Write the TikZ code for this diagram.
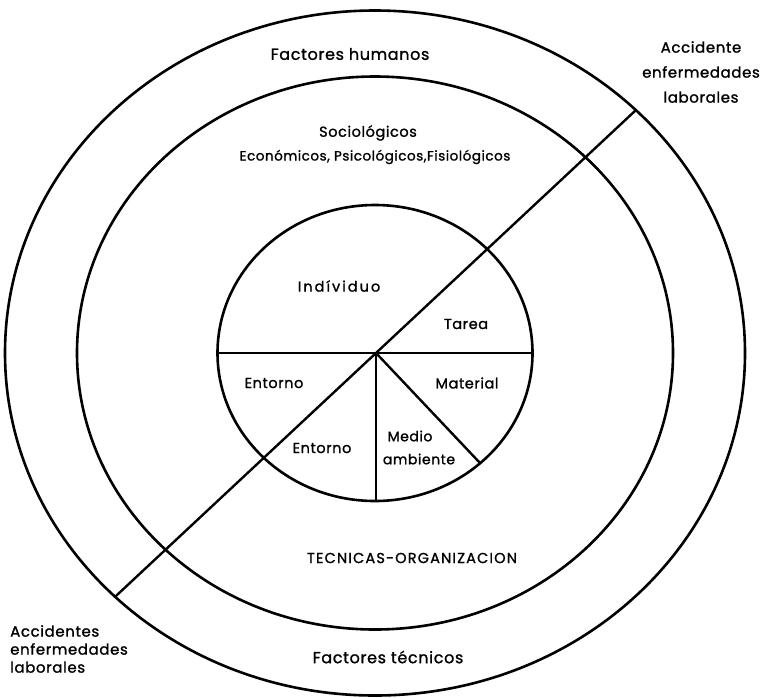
\documentclass[tikz,border=0pt]{standalone}
\usepackage{fontspec}
\setmainfont{Poppins}[FakeBold=1.2, LetterSpace=4]
\begin{document}
\begin{tikzpicture}[x=1pt,y=-1pt,
  ring/.style={line width=2.6pt},
  sep/.style={line width=2.4pt},
  lbl/.style={font=\fontsize{14.5}{17}\selectfont, inner sep=0pt, anchor=center},
  big/.style={font=\fontsize{15}{25}\selectfont, inner sep=0pt, anchor=center, align=center}
]
\fill[white] (0,0) rectangle (762,697);
\useasboundingbox (0,0) rectangle (762,697);
% centre
\coordinate (c) at (376,353);
\coordinate (e) at (375,353);
% rings
\draw[ring] (e) ellipse [x radius=370pt, y radius=342.5pt];
\draw[ring] (e) ellipse [x radius=298pt, y radius=276.5pt];
\draw[ring] (e) ellipse [x radius=157.5pt, y radius=148pt];
% connector ends
\coordinate (dU) at (636,110);
\coordinate (dL) at (115.6,596.3);
\coordinate (hL) at (218,353);
\coordinate (hR) at (533,353);
\coordinate (vB) at (376,501);
\coordinate (mB) at (480,463);
\draw[sep] (dL) -- (c) -- (dU);
\draw[sep] (hL) -- (hR);
\draw[sep] (c) -- (vB);
\draw[sep] (c) -- (mB);
% labels
\node[big, font=\fontsize{16}{25}\selectfont] (fh) at (350,54) {Factores humanos};
\node[big] (acc1) at (701,72) {Accidente\\enfermedades\\laborales};
\node[lbl] (soc) at (368,133) {Sociológicos};
\node[lbl, font=\fontsize{13.5}{17}\selectfont] (eco) at (375,157) {Económicos, Psicológicos,Fisiológicos};
\node[lbl, font=\fontsize{14.5}{17}\selectfont\addfontfeature{LetterSpace=14}] (ind) at (339,286) {Indíviduo};
\node[lbl] (tar) at (466,324) {Tarea};
\node[lbl] (ent1) at (274,383) {Entorno};
\node[lbl] (mat) at (467,383) {Material};
\node[lbl] (ent2) at (322,448) {Entorno};
\node[lbl, font=\fontsize{14}{17}\selectfont] (med1) at (410,436) {Medio};
\node[lbl, font=\fontsize{14}{17}\selectfont] (med2) at (419,459) {ambiente};
\node[lbl, font=\fontsize{14.5}{17}\selectfont\addfontfeature{LetterSpace=8}] (tec) at (412,558) {TECNICAS-ORGANIZACION};
\node[big, font=\fontsize{16}{25}\selectfont] (ft) at (388,657) {Factores técnicos};
\node[big, anchor=west, align=left, font=\fontsize{15}{18}\selectfont] (acc2) at (10,649) {Accidentes\\enfermedades\\laborales};
\end{tikzpicture}
\end{document}
